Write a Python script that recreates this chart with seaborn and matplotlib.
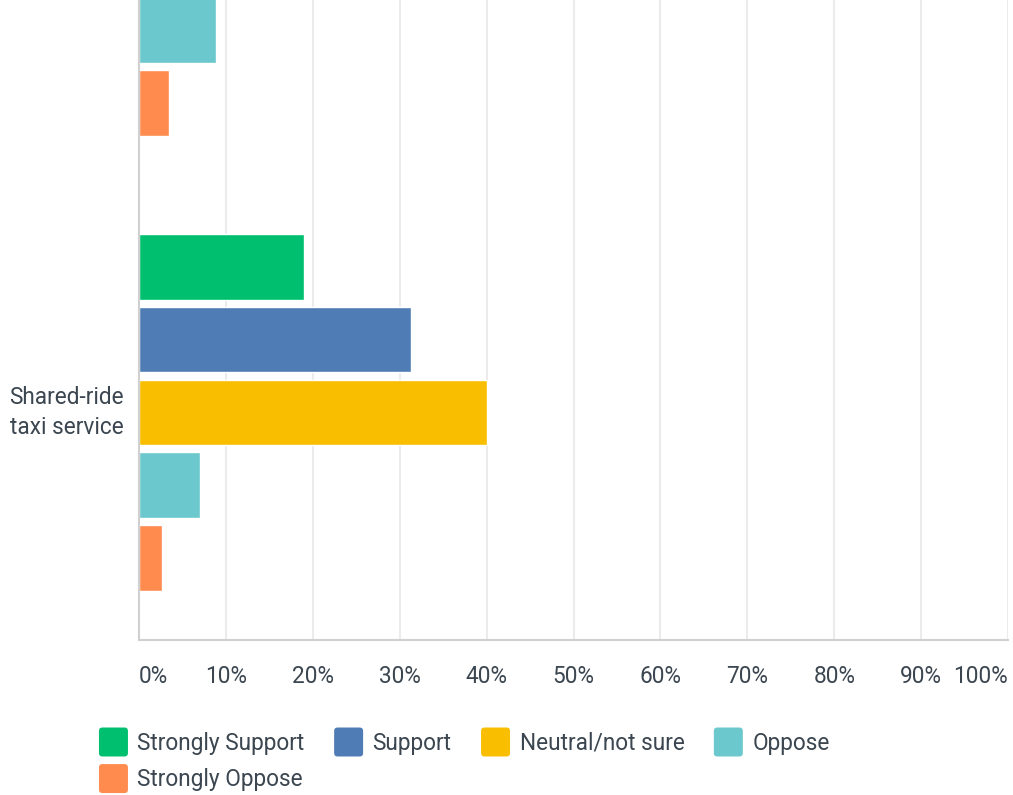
import matplotlib
matplotlib.use("Agg")
import matplotlib.pyplot as plt
from matplotlib.patches import FancyBboxPatch, Patch
from matplotlib.legend_handler import HandlerPatch
import seaborn as sns
import pandas as pd

# Response shares (%) per option; the upper option only shows its last two answers
options = ["", "Shared-ride\ntaxi service"]
responses = ["Strongly Support", "Support", "Neutral/not sure", "Oppose", "Strongly Oppose"]
upper_option = [None, None, None, 8.9, 3.5]
shared_ride = [19.0, 31.3, 40.0, 7.0, 2.6]
colors = ["#00bf6f", "#507cb6", "#f9be00", "#6bc8cd", "#ff8b4f"]
tick_values = [0, 10, 20, 30, 40, 50, 60, 70, 80, 90, 100]
tick_labels = ["0%", "10%", "20%", "30%", "40%", "50%", "60%", "70%", "80%", "90%", "100%"]

rows = []
for opt, vals in zip(options, [upper_option, shared_ride]):
    for resp, v in zip(responses, vals):
        if v is not None:
            rows.append({"option": opt, "response": resp, "share": v})
df = pd.DataFrame(rows)

sns.set_theme(style="white")
plt.rcParams["font.family"] = ["Roboto", "DejaVu Sans"]
text_color = "#3b4650"
fs = 16.3

fig = plt.figure(figsize=(10.13, 7.95), dpi=100)
ax = fig.add_axes([0.1372, 0.195, 0.858, 1.145])

sns.barplot(data=df, x="share", y="option", hue="response", hue_order=responses,
            order=options, palette=colors, orient="h", width=0.8, gap=0.1,
            saturation=1, legend=False, ax=ax)

ax.set_xlim(0, 100)
ax.set_ylim(1.5, -0.5)
ax.set_xticks(tick_values)
ax.set_xticklabels(tick_labels)
ax.set_xlabel("")
ax.set_ylabel("")
ax.grid(axis="x", color="#ebebeb", linewidth=1.5)
ax.set_axisbelow(True)
for side in ["top", "right"]:
    ax.spines[side].set_visible(False)
for side in ["left", "bottom"]:
    ax.spines[side].set_color("#d0d0d0")
    ax.spines[side].set_linewidth(1.5)
ax.tick_params(axis="x", length=0, pad=18, labelsize=fs, labelcolor=text_color)
ax.tick_params(axis="y", length=0, pad=11, labelsize=fs, labelcolor=text_color)
xt = ax.get_xticklabels()
xt[0].set_ha("left")
xt[-1].set_ha("right")
for lbl in ax.get_yticklabels():
    lbl.set_multialignment("right")
    lbl.set_linespacing(1.4)
    lbl.set_va("center")


class RoundedHandler(HandlerPatch):
    """Square swatch with softly rounded corners, centred on the label."""

    def create_artists(self, legend, orig_handle, xdescent, ydescent,
                       width, height, fontsize, trans):
        side = width
        y0 = -ydescent + height / 2 - side / 2
        p = FancyBboxPatch((-xdescent + 1.5, y0 + 1.5), side - 3, side - 3,
                           boxstyle="round,pad=1.5,rounding_size=2.5",
                           facecolor=orig_handle.get_facecolor(), edgecolor="none",
                           transform=trans)
        return [p]


handles = [Patch(facecolor=c, label=r) for r, c in zip(responses, colors)]
order = [0, 4, 1, 2, 3]
fig.legend([handles[i] for i in order], [responses[i] for i in order],
           handler_map={Patch: RoundedHandler()},
           loc="upper left", bbox_to_anchor=(0.0977, 0.082), bbox_transform=fig.transFigure,
           ncol=4, frameon=False, fontsize=fs, labelcolor=text_color,
           handlelength=1.28, handleheight=1.28, handletextpad=0.42,
           columnspacing=1.3, labelspacing=0.52, borderaxespad=0, borderpad=0)

fig.savefig("out.png", dpi=100)
